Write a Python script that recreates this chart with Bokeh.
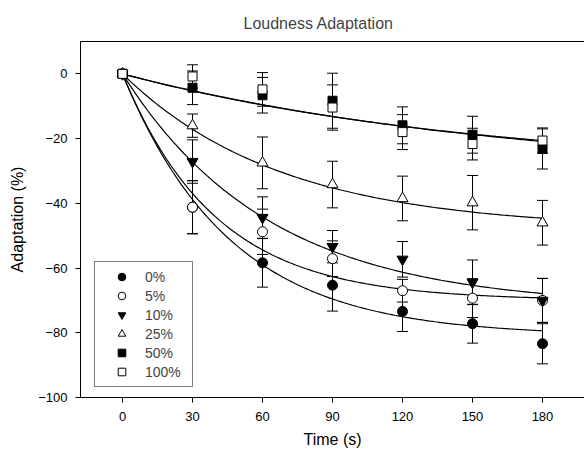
import numpy as np
from bokeh.plotting import figure
from bokeh.models import (ColumnDataSource, Whisker, TeeHead, Legend, LegendItem,
                          Range1d, FixedTicker, LinearAxis)
from bokeh.embed import file_html
from bokeh.resources import INLINE

# ---- data ----
times = [0, 30, 60, 90, 120, 150, 180]
series = ["0%", "5%", "10%", "25%", "50%", "100%"]

y_0 = [0, -41.2, -58.4, -65.3, -73.4, -77.2, -83.4]
y_5 = [0, -41.2, -48.8, -57.1, -67.0, -69.3, -70.0]
y_10 = [0, -27.1, -44.4, -53.4, -57.3, -64.4, -70.0]
y_25 = [0, -16.0, -27.5, -34.2, -38.5, -39.8, -46.0]
y_50 = [0, -4.3, -6.6, -8.3, -15.9, -18.8, -23.2]
y_100 = [0, -0.8, -4.8, -10.4, -18.0, -21.7, -20.6]

e_0 = [0, 8.2, 7.5, 8.0, 6.2, 6.0, 6.2]
e_5 = [0, 8.2, 7.0, 5.5, 3.5, 6.0, 6.8]
e_10 = [0, 6.7, 6.4, 5.0, 5.5, 6.9, 6.8]
e_25 = [0, 3.6, 8.0, 7.2, 6.9, 8.4, 6.9]
e_50 = [0, 5.2, 5.5, 8.5, 5.7, 5.7, 6.2]
e_100 = [0, 3.6, 5.2, 7.0, 5.4, 4.9, 3.9]

# exponential-rise fits  y = amp * (1 - exp(-t / tau))
fit_amp = [-81, -70, -72, -48, -32, -30]
fit_tau = [46, 40, 63, 68, 170, 155]

y_ticks = [-100, -80, -60, -40, -20, 0]
x_ticks = [0, 30, 60, 90, 120, 150, 180]

ys = [y_0, y_5, y_10, y_25, y_50, y_100]
es = [e_0, e_5, e_10, e_25, e_50, e_100]
markers = ["circle", "circle", "inverted_triangle", "triangle", "square", "square"]
fills = ["black", "white", "black", "white", "black", "white"]
sizes = [10, 10, 11, 11, 9, 9]

FONT = "Liberation Sans"

p = figure(width=584, height=455, output_backend="svg", toolbar_location=None,
           x_range=Range1d(-18, 198), y_range=Range1d(-100, 10),
           min_border_left=80, min_border_right=0, min_border_top=41,
           min_border_bottom=58, title="Loudness Adaptation")

p.title.text_font = FONT
p.title.text_font_size = "16px"
p.title.text_font_style = "normal"
p.title.align = "left"
p.title.offset = 163
p.title.standoff = 20

p.grid.visible = False
p.outline_line_color = None
p.background_fill_color = "white"
p.border_fill_color = "white"

# top border line of the frame (right side of the frame is cut off in the reference)
top_ax = LinearAxis(ticker=FixedTicker(ticks=[]), axis_line_color="black",
                    major_tick_line_color=None, minor_tick_line_color=None,
                    major_label_text_font_size="0px")
p.add_layout(top_ax, "above")

xa = p.below[0]
ya = p.left[0]
for ax in (xa, ya):
    ax.axis_line_color = "black"
    ax.major_tick_line_color = "black"
    ax.minor_tick_line_color = None
    ax.major_tick_out = 5
    ax.major_tick_in = 0
    ax.major_label_text_font = FONT
    ax.major_label_text_font_size = "13px"
    ax.major_label_text_color = "black"
    ax.axis_label_text_font = FONT
    ax.axis_label_text_font_size = "16px"
    ax.axis_label_text_font_style = "normal"
    ax.axis_label_text_color = "black"

xa.ticker = FixedTicker(ticks=x_ticks)
ya.ticker = FixedTicker(ticks=y_ticks)
xa.axis_label = "Time (s)"
ya.axis_label = "Adaptation (%)"
xa.major_label_standoff = 9
xa.axis_label_standoff = 7
ya.major_label_standoff = 8
ya.axis_label_standoff = 9

t_fit = np.linspace(0, 180, 200)
for amp, tau in zip(fit_amp, fit_tau):
    p.line(t_fit, amp * (1 - np.exp(-t_fit / tau)), line_color="black", line_width=1.2)

for name, y, e in zip(series, ys, es):
    t_e = [t for t, ee in zip(times, e) if ee > 0]
    up = [yy + ee for yy, ee in zip(y, e) if ee > 0]
    lo = [yy - ee for yy, ee in zip(y, e) if ee > 0]
    src = ColumnDataSource(dict(base=t_e, upper=up, lower=lo))
    w = Whisker(source=src, base="base", upper="upper", lower="lower",
                line_color="black", line_width=1,
                upper_head=TeeHead(size=11, line_color="black", line_width=1),
                lower_head=TeeHead(size=11, line_color="black", line_width=1))
    p.add_layout(w)

items = []
for name, y, mk, fc, sz in zip(series, ys, markers, fills, sizes):
    r = p.scatter(times, y, marker=mk, size=sz, fill_color=fc, line_color="black",
                  line_width=1)
    items.append(LegendItem(label=name, renderers=[r]))

legend = Legend(items=items, location=(14, 10), border_line_color="black",
                border_line_width=1, background_fill_color="white",
                background_fill_alpha=1, padding=5, margin=0,
                glyph_width=43, glyph_height=19, label_height=19, spacing=0,
                label_standoff=2, label_width=42,
                label_text_font=FONT, label_text_font_size="14px")
p.add_layout(legend, "center")

open("out.html", "w").write(file_html(p, INLINE))
